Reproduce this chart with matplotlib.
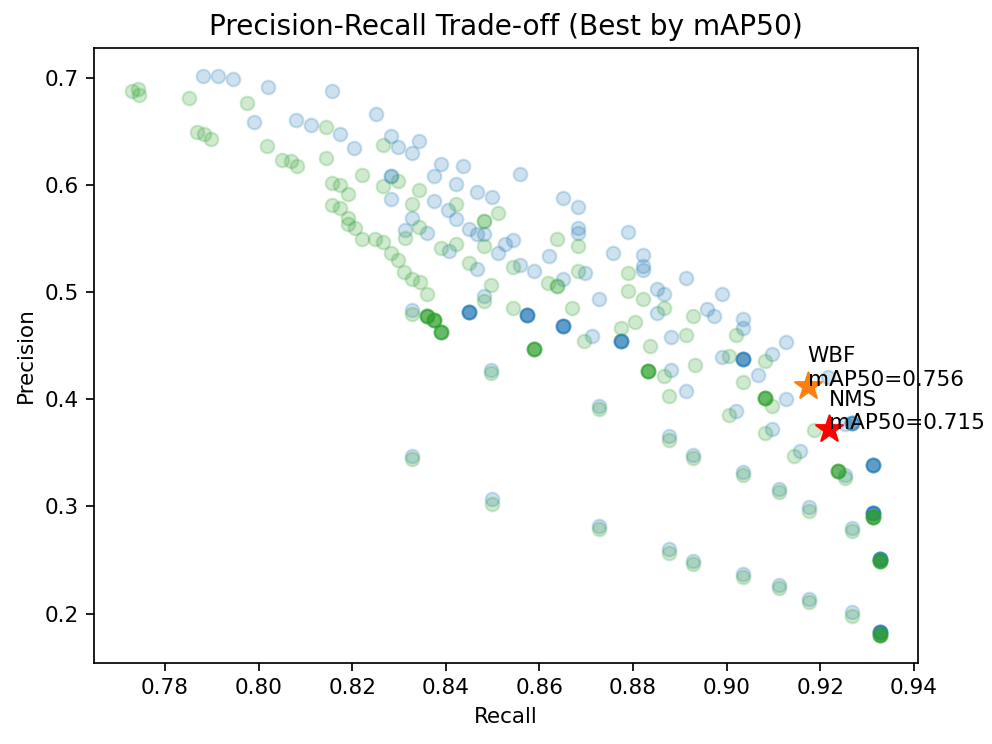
import numpy as np
import matplotlib.pyplot as plt

# blue runs (recall, precision, how many configurations landed on that point)
blue_recall = [
    0.7882, 0.7914, 0.7945, 0.8021, 0.8158, 0.7991, 0.8081, 0.8113, 0.8175, 0.8204, 0.8251,
    0.8282, 0.8299, 0.8343, 0.8328, 0.8390, 0.8436, 0.8375, 0.8421,
    0.8282, 0.8282, 0.8375, 0.8404, 0.8421, 0.8328, 0.8313, 0.8360,
    0.8466, 0.8498, 0.8450, 0.8466, 0.8482, 0.8559, 0.8650, 0.8682, 0.8682, 0.8682,
    0.8789, 0.8758, 0.8821, 0.8821, 0.8821, 0.8526, 0.8544, 0.8512, 0.8621, 0.8407,
    0.8466, 0.8559, 0.8589, 0.8697, 0.8651, 0.8728, 0.8482,
    0.8327, 0.8450, 0.8574, 0.8650, 0.8712, 0.8774,
    0.8913, 0.8851, 0.8866, 0.8990, 0.8851, 0.8957, 0.8973, 0.9034, 0.9034, 0.8881,
    0.9127, 0.9096, 0.8990, 0.9034, 0.8881, 0.9066, 0.9216, 0.8913, 0.9127,
    0.9019, 0.9096, 0.9157, 0.9252, 0.9267, 0.9313,
    0.8497, 0.8728, 0.8327, 0.8498, 0.8728, 0.8877, 0.8928, 0.9034, 0.9112, 0.9175,
    0.9253, 0.9267, 0.8877, 0.8928, 0.9034, 0.9112, 0.9175, 0.9267,
    0.9312, 0.9328, 0.9328,
]
blue_precision = [
    0.7020, 0.7020, 0.6989, 0.6917, 0.6874, 0.6584, 0.6608, 0.6558, 0.6474, 0.6340, 0.6664,
    0.6458, 0.6356, 0.6406, 0.6297, 0.6194, 0.6178, 0.6079, 0.6007,
    0.6084, 0.5866, 0.5850, 0.5766, 0.5679, 0.5695, 0.5576, 0.5548,
    0.5935, 0.5891, 0.5592, 0.5539, 0.5545, 0.6100, 0.5882, 0.5789, 0.5595, 0.5555,
    0.5564, 0.5361, 0.5342, 0.5240, 0.5202, 0.5445, 0.5485, 0.5361, 0.5336, 0.5383,
    0.5211, 0.5252, 0.5196, 0.5180, 0.5118, 0.4931, 0.4962,
    0.4831, 0.4816, 0.4790, 0.4681, 0.4587, 0.4541,
    0.5134, 0.5024, 0.4978, 0.4978, 0.4806, 0.4844, 0.4781, 0.4744, 0.4666, 0.4578,
    0.4531, 0.4423, 0.4395, 0.4379, 0.4270, 0.4223, 0.4208, 0.4073, 0.4002,
    0.3892, 0.3724, 0.3518, 0.3771, 0.3777, 0.3387,
    0.4270, 0.3935, 0.3470, 0.3070, 0.2820, 0.3661, 0.3480, 0.3320, 0.3160, 0.2990,
    0.3290, 0.2800, 0.2600, 0.2490, 0.2370, 0.2270, 0.2140, 0.2010,
    0.2935, 0.2510, 0.1830,
]
blue_count = [
    1, 1, 1, 1, 1, 1, 1, 1, 1, 1, 1,
    1, 1, 1, 1, 1, 1, 1, 1,
    2, 1, 1, 1, 1, 1, 1, 1,
    1, 1, 1, 1, 1, 1, 1, 1, 1, 1,
    1, 1, 1, 1, 1, 1, 1, 1, 1, 1,
    1, 1, 1, 1, 1, 1, 1,
    1, 5, 5, 5, 1, 5,
    1, 1, 1, 1, 1, 1, 1, 1, 1, 1,
    1, 1, 1, 5, 1, 1, 1, 1, 1,
    1, 1, 1, 1, 4, 5,
    1, 1, 1, 1, 1, 1, 1, 1, 1, 1,
    1, 1, 1, 1, 1, 1, 1, 1,
    6, 6, 6,
]

# green runs (recall, precision, count)
green_recall = [
    0.7729, 0.7743, 0.7745, 0.7852, 0.7868, 0.7883, 0.7898, 0.7975, 0.8019, 0.8051,
    0.8069, 0.8083, 0.8144, 0.8144, 0.8220, 0.8158, 0.8175, 0.8192, 0.8158, 0.8175,
    0.8192, 0.8192, 0.8206, 0.8220, 0.8249,
    0.8266, 0.8299, 0.8266, 0.8343, 0.8328, 0.8421, 0.8343, 0.8313, 0.8512, 0.8482,
    0.8482, 0.8637, 0.8682,
    0.8266, 0.8282, 0.8299, 0.8311, 0.8327, 0.8344, 0.8359,
    0.8390, 0.8421, 0.8450, 0.8544, 0.8682, 0.8789,
    0.8482, 0.8497, 0.8543, 0.8669, 0.8619, 0.8637, 0.8790, 0.8821,
    0.8327, 0.8359, 0.8375, 0.8390, 0.8589, 0.8696,
    0.8774, 0.8804, 0.8836, 0.8833,
    0.8866, 0.8928, 0.9019, 0.8913, 0.9005, 0.9082, 0.8932, 0.8866, 0.9034, 0.8877,
    0.9082, 0.9096, 0.9005, 0.9081, 0.9187, 0.9143, 0.9237,
    0.8497, 0.8728, 0.8327, 0.8498, 0.8728, 0.8877, 0.8928, 0.9034, 0.9112, 0.9175,
    0.9253, 0.9267, 0.8877, 0.8928, 0.9034, 0.9112, 0.9175, 0.9267,
    0.9312, 0.9328, 0.9328,
]
green_precision = [
    0.6880, 0.6895, 0.6840, 0.6808, 0.6490, 0.6474, 0.6427, 0.6761, 0.6365, 0.6234,
    0.6225, 0.6172, 0.6537, 0.6247, 0.6094, 0.6016, 0.6000, 0.5913, 0.5813, 0.5782,
    0.5695, 0.5632, 0.5595, 0.5499, 0.5492,
    0.6374, 0.6037, 0.5990, 0.5951, 0.5820, 0.5820, 0.5607, 0.5508, 0.5733, 0.5664,
    0.5429, 0.5499, 0.5429,
    0.5467, 0.5368, 0.5298, 0.5188, 0.5126, 0.5090, 0.4981,
    0.5414, 0.5445, 0.5268, 0.5237, 0.5196, 0.5180,
    0.4915, 0.5062, 0.4853, 0.4853, 0.5087, 0.5055, 0.5009, 0.4937,
    0.4797, 0.4781, 0.4737, 0.4625, 0.4472, 0.4547,
    0.4666, 0.4718, 0.4494, 0.4260,
    0.4847, 0.4781, 0.4603, 0.4603, 0.4401, 0.4354, 0.4323, 0.4214, 0.4157, 0.4026,
    0.4011, 0.3939, 0.3848, 0.3684, 0.3715, 0.3474, 0.3331,
    0.4240, 0.3910, 0.3440, 0.3020, 0.2790, 0.3621, 0.3450, 0.3290, 0.3130, 0.2960,
    0.3260, 0.2770, 0.2560, 0.2460, 0.2340, 0.2240, 0.2110, 0.1980,
    0.2904, 0.2490, 0.1800,
]
green_count = [
    1, 1, 1, 1, 1, 1, 1, 1, 1, 1,
    1, 1, 1, 1, 1, 1, 1, 1, 1, 1,
    1, 1, 1, 1, 1,
    1, 1, 1, 1, 1, 1, 1, 1, 1, 2,
    1, 1, 1,
    1, 1, 1, 1, 1, 1, 1,
    1, 1, 1, 1, 1, 1,
    1, 1, 1, 1, 1, 2, 1, 1,
    1, 5, 5, 5, 5, 1,
    1, 1, 1, 5,
    1, 1, 1, 1, 1, 1, 1, 1, 1, 1,
    5, 1, 1, 1, 1, 1, 5,
    1, 1, 1, 1, 1, 1, 1, 1, 1, 1,
    1, 1, 1, 1, 1, 1, 1, 1,
    6, 6, 6,
]

# best configuration of each method
best_names = ["WBF", "NMS"]
best_recall = [0.9173, 0.9219]
best_precision = [0.4126, 0.3721]
best_map50 = [0.756, 0.715]
best_colors = ["tab:orange", "red"]

fig = plt.figure(figsize=(6.4, 4.8), dpi=155)
ax = fig.add_subplot(111)
fig.subplots_adjust(left=0.095, right=0.925, bottom=0.109, top=0.936)

ax.scatter(np.repeat(blue_recall, blue_count), np.repeat(blue_precision, blue_count),
           s=40, color="tab:blue", alpha=0.22)
ax.scatter(np.repeat(green_recall, green_count), np.repeat(green_precision, green_count),
           s=40, color="tab:green", alpha=0.22)

for name, r, p, m, c in zip(best_names, best_recall, best_precision, best_map50, best_colors):
    ax.scatter([r], [p], marker="*", s=170, color=c)
    ax.text(r, p, name + "\nmAP50=" + "%.3f" % m)

ax.set_xlabel("Recall")
ax.set_ylabel("Precision")
ax.set_title("Precision-Recall Trade-off (Best by mAP50)", fontsize=13)

fig.savefig("out.png", dpi=155)
